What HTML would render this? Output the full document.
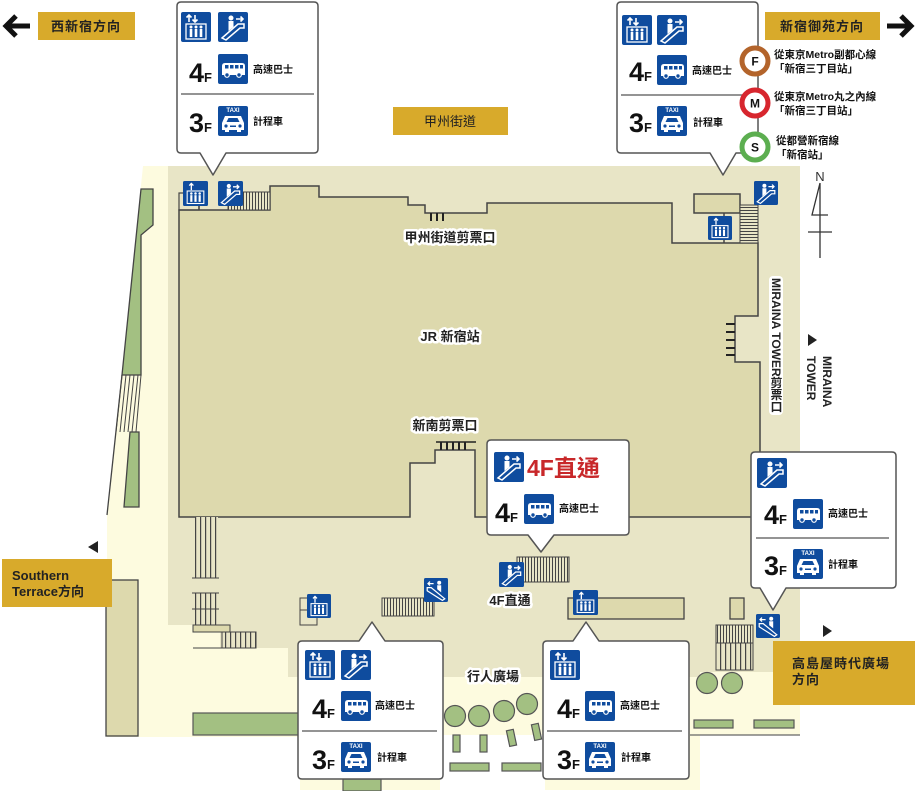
<!DOCTYPE html>
<html><head><meta charset="utf-8">
<style>
html,body{margin:0;padding:0;background:#fff;}
#w{position:relative;width:917px;height:791px;overflow:hidden;font-family:"Liberation Sans","Noto Sans CJK TC",sans-serif;}
svg{position:absolute;left:0;top:0;}
svg text{font-family:"Liberation Sans","Noto Sans CJK TC",sans-serif;font-weight:bold;}
.halo{paint-order:stroke;stroke:#fff;stroke-width:5px;stroke-linejoin:round;}
.v{position:absolute;writing-mode:vertical-rl;font-weight:bold;color:#222;white-space:nowrap;line-height:1;}
</style></head><body><div id="w">
<svg width="917" height="791" viewBox="0 0 917 791">
<defs>
<pattern id="sv" width="3" height="10" patternUnits="userSpaceOnUse"><rect width="3" height="10" fill="#e8e5c6"/><rect width="1" height="10" fill="#444"/></pattern>
<pattern id="sv5" width="5" height="10" patternUnits="userSpaceOnUse"><rect width="5" height="10" fill="#e8e5c6"/><rect width="1.2" height="10" fill="#444"/></pattern>
<pattern id="sh" width="10" height="3" patternUnits="userSpaceOnUse"><rect width="10" height="3" fill="#e8e5c6"/><rect width="10" height="1" fill="#444"/></pattern>
<symbol id="elev2" viewBox="0 0 30 30"><rect width="30" height="30" rx="2" fill="#0f4c9e"/><path d="M8 10V3M5.5 5.5L8 3l2.5 2.5M14 3v7M11.5 7.5L14 10l2.5-2.5" stroke="#fff" stroke-width="1.6" fill="none"/><rect x="5" y="12" width="20" height="15" fill="none" stroke="#fff" stroke-width="1.3"/><g fill="#fff"><circle cx="10" cy="15" r="1.5"/><circle cx="15" cy="15" r="1.5"/><circle cx="20" cy="15" r="1.5"/><rect x="8.7" y="17" width="2.6" height="8"/><rect x="13.7" y="17" width="2.6" height="8"/><rect x="18.7" y="17" width="2.6" height="8"/></g></symbol>
<symbol id="elev1" viewBox="0 0 30 30"><rect width="30" height="30" rx="2" fill="#0f4c9e"/><path d="M10 11V3M7.5 5.5L10 3l2.5 2.5" stroke="#fff" stroke-width="1.6" fill="none"/><rect x="5" y="12" width="20" height="15" fill="none" stroke="#fff" stroke-width="1.3"/><g fill="#fff"><circle cx="10" cy="15" r="1.5"/><circle cx="15" cy="15" r="1.5"/><circle cx="20" cy="15" r="1.5"/><rect x="8.7" y="17" width="2.6" height="8"/><rect x="13.7" y="17" width="2.6" height="8"/><rect x="18.7" y="17" width="2.6" height="8"/></g></symbol>
<symbol id="esc" viewBox="0 0 30 30"><rect width="30" height="30" rx="2" fill="#0f4c9e"/><path d="M4 26L20 12h6v4h-4L8 28z" fill="none" stroke="#fff" stroke-width="1.5"/><circle cx="13" cy="6" r="2.5" fill="#fff"/><path d="M10.5 9h5v6l-5 4z" fill="#fff"/><path d="M18 7h7M22.5 4.5L25 7l-2.5 2.5" stroke="#fff" stroke-width="1.6" fill="none"/></symbol>
<symbol id="escl" viewBox="0 0 30 30"><rect width="30" height="30" rx="2" fill="#0f4c9e"/><path d="M4 16V12h5l17 14-3 2z" fill="none" stroke="#fff" stroke-width="1.5"/><circle cx="19" cy="6" r="2.5" fill="#fff"/><path d="M16.5 9h5v9l-5-4z" fill="#fff"/><path d="M12 7H5M7.5 4.5L5 7l2.5 2.5" stroke="#fff" stroke-width="1.6" fill="none"/></symbol>
<symbol id="bus" viewBox="0 0 30 30"><rect width="30" height="30" rx="2" fill="#0f4c9e"/><path d="M4 21V12q0-3 3-3h17q3 0 3 3v9z" fill="#fff"/><rect x="7" y="11" width="3.5" height="3.5" fill="#0f4c9e"/><rect x="12" y="11" width="3.5" height="3.5" fill="#0f4c9e"/><rect x="17" y="11" width="3.5" height="3.5" fill="#0f4c9e"/><rect x="22" y="11" width="3" height="3.5" fill="#0f4c9e"/><circle cx="9" cy="21" r="2.3" fill="#0f4c9e" stroke="#fff" stroke-width="1.2"/><circle cx="21" cy="21" r="2.3" fill="#0f4c9e" stroke="#fff" stroke-width="1.2"/></symbol>
<symbol id="car" viewBox="0 0 30 30"><rect width="30" height="30" rx="2" fill="#0f4c9e"/><path d="M4 24v-7l3-7h16l3 7v7h-3v2h-4v-2h-8v2H7v-2z" fill="#fff"/><path d="M8.5 16l2-4h9l2 4z" fill="#0f4c9e"/><circle cx="8" cy="20" r="1.6" fill="#0f4c9e"/><circle cx="22" cy="20" r="1.6" fill="#0f4c9e"/><rect x="12" y="19.5" width="6" height="1.5" fill="#0f4c9e"/></symbol>
</defs>

<polygon points="143,166 800,166 800,735 700,735 700,790 545,790 545,735 440,735 440,790 300,790 300,737 107,737 107,515" fill="#fdfbdf"/>
<polygon points="168,166 800,166 800,672 700,672 700,677 288,677 288,648 220,648 220,625 168,625 168,200" fill="#e8e5c6"/>
<polygon points="179,210 270,210 270,186 319,186 319,197 408,197 408,205 425,205 425,213 487,213 487,203 672,203 672,243 758,243 758,316 735,316 735,362 760,362 760,517 475,517 475,450 435,450 435,463 410,463 410,517 179,517" fill="#ddd9ad" stroke="#444" stroke-width="1.5"/>
<rect x="694" y="194" width="46" height="19" fill="#ddd9ad" stroke="#444" stroke-width="1.5"/>
<line x1="724" y1="213" x2="724" y2="243" stroke="#444" stroke-width="1.5"/>
<line x1="199" y1="203" x2="199" y2="210" stroke="#444" stroke-width="1.5"/>
<rect x="179" y="193" width="20" height="17" fill="none" stroke="#444" stroke-width="1.2"/>
<g stroke="#222" stroke-width="2"><line x1="431" y1="213" x2="431" y2="221"/><line x1="437" y1="213" x2="437" y2="221"/><line x1="443" y1="213" x2="443" y2="221"/>
<line x1="441" y1="442" x2="441" y2="450"/><line x1="447" y1="442" x2="447" y2="450"/><line x1="453" y1="442" x2="453" y2="450"/><line x1="459" y1="442" x2="459" y2="450"/><line x1="465" y1="442" x2="465" y2="450"/>
<line x1="726" y1="324" x2="735" y2="324"/><line x1="726" y1="332" x2="735" y2="332"/><line x1="726" y1="340" x2="735" y2="340"/><line x1="726" y1="348" x2="735" y2="348"/><line x1="726" y1="355" x2="735" y2="355"/></g>
<line x1="436" y1="442" x2="476" y2="442" stroke="#222" stroke-width="1.5"/>
<rect x="228" y="192" width="42" height="18" fill="url(#sv)" stroke="#444"/>
<rect x="740" y="205" width="18" height="38" fill="url(#sh)" stroke="#444"/>
<rect x="195" y="517" width="23" height="61" fill="url(#sv5)"/><line x1="192" y1="578" x2="219" y2="578" stroke="#444"/>
<rect x="195" y="593" width="23" height="32" fill="url(#sv5)"/><line x1="192" y1="593" x2="219" y2="593" stroke="#444"/><line x1="192" y1="609" x2="219" y2="609" stroke="#444"/>
<rect x="193" y="625" width="37" height="7" fill="#ddd9ad" stroke="#444"/>
<rect x="222" y="632" width="34" height="16" fill="url(#sv5)" stroke="#444"/><line x1="193" y1="648" x2="222" y2="648" stroke="#444"/>
<rect x="517" y="557" width="52" height="25" fill="url(#sv)" stroke="#444"/>
<rect x="382" y="598" width="52" height="18" fill="url(#sv)" stroke="#444"/>
<rect x="716" y="625" width="37" height="18" fill="url(#sv)" stroke="#444"/>
<rect x="716" y="643" width="37" height="27" fill="url(#sv5)" stroke="#444"/>
<rect x="568" y="598" width="116" height="21" fill="#ddd9ad" stroke="#444" stroke-width="1.3"/>
<rect x="730" y="598" width="14" height="21" fill="#ddd9ad" stroke="#444" stroke-width="1.3"/>
<polyline points="307,598 300,598 300,625 317,625 317,618" fill="none" stroke="#444"/><line x1="300" y1="610" x2="307" y2="610" stroke="#444"/>
<polygon points="141,189 153,189 153,225 141,235 141,375 122,375" fill="#a3c082" stroke="#444" stroke-width="1.3"/>
<g stroke="#444" stroke-width="1"><line x1="122" y1="375" x2="116" y2="432"/><line x1="126" y1="375" x2="120" y2="432"/><line x1="130" y1="375" x2="124" y2="432"/><line x1="134" y1="375" x2="128" y2="432"/><line x1="138" y1="375" x2="132" y2="432"/><line x1="141" y1="375" x2="136" y2="432"/></g>
<polygon points="130,432 139,432 139,507 124,507" fill="#a3c082" stroke="#444" stroke-width="1.3"/>
<line x1="122" y1="375" x2="107" y2="515" stroke="#444" stroke-width="1.3"/>
<rect x="106" y="580" width="32" height="156" fill="#ddd9ad" stroke="#444" stroke-width="1.3"/>
<g fill="#a3c082" stroke="#555" stroke-width="1.2">
<rect x="193" y="713" width="106" height="22"/>
<rect x="343" y="779" width="38" height="12"/>
<rect x="450" y="763" width="39" height="8"/><rect x="502" y="763" width="39" height="8"/>
<rect x="453" y="735" width="7" height="17"/><rect x="480" y="735" width="7" height="17"/>
<rect x="508" y="730" width="7" height="16" transform="rotate(-12 511 738)"/><rect x="533" y="724" width="7" height="16" transform="rotate(-12 536 732)"/>
<rect x="694" y="720" width="39" height="8"/><rect x="754" y="720" width="40" height="8"/>
<circle cx="455" cy="716" r="10.5"/><circle cx="479" cy="716" r="10.5"/><circle cx="504" cy="711" r="10.5"/><circle cx="527" cy="704" r="10.5"/>
<circle cx="707" cy="683" r="10.5"/><circle cx="732" cy="683" r="10.5"/>
</g>
<line x1="690" y1="735" x2="800" y2="735" stroke="#666" stroke-width="1.3"/>

<use href="#elev1" x="183" y="181" width="25" height="25"/>
<use href="#esc" x="218" y="181" width="25" height="25"/>
<use href="#esc" x="754" y="181" width="24" height="24"/>
<use href="#elev1" x="708" y="216" width="24" height="24"/>
<use href="#esc" x="499" y="562" width="25" height="25"/>
<use href="#elev1" x="573" y="590" width="25" height="25"/>
<use href="#elev1" x="307" y="594" width="24" height="24"/>
<use href="#escl" x="424" y="578" width="24" height="24"/>
<use href="#escl" x="756" y="614" width="24" height="24"/>

<text x="450" y="242" font-size="13" text-anchor="middle" class="halo" fill="#222">甲州街道剪票口</text>
<text x="450" y="341" font-size="13" text-anchor="middle" class="halo" fill="#222">JR 新宿站</text>
<text x="445" y="430" font-size="13" text-anchor="middle" class="halo" fill="#222">新南剪票口</text>
<text x="510" y="605" font-size="13" text-anchor="middle" class="halo" fill="#222">4F直通</text>
<text x="493" y="681" font-size="13" text-anchor="middle" class="halo" fill="#222">行人廣場</text>

<text x="820" y="181" font-size="13" text-anchor="middle" fill="#333" style="font-weight:normal">N</text>
<path d="M820 183L812 215H828M820 183V258M808 232H832" fill="none" stroke="#333" stroke-width="1.3"/>
<polygon points="808,334 808,346 817,340" fill="#222"/>
<polygon points="98,541 98,553 88,547" fill="#222"/>
<polygon points="823,625 823,637 832,631" fill="#222"/>
<path d="M30 26H6M16 16L6 26l10 10" stroke="#111" stroke-width="5" fill="none"/>
<path d="M887 26H911M901 16l10 10-10 10" stroke="#111" stroke-width="5" fill="none"/>
<g fill="#d8aa2b"><rect x="38" y="12" width="97" height="28"/><rect x="393" y="107" width="115" height="28"/><rect x="765" y="12" width="115" height="28"/><rect x="2" y="559" width="110" height="48"/><rect x="773" y="641" width="142" height="64"/></g>
<g fill="#222" font-size="13"><text x="86" y="31" text-anchor="middle" letter-spacing="1">西新宿方向</text>
<text x="450" y="126" text-anchor="middle" style="font-weight:normal">甲州街道</text>
<text x="822" y="31" text-anchor="middle" letter-spacing="1">新宿御苑方向</text>
<text x="12" y="580" font-size="13">Southern</text><text x="12" y="596" font-size="13">Terrace方向</text>
<text x="792" y="668" font-size="13" letter-spacing="1">高島屋時代廣場</text><text x="792" y="684" font-size="13" letter-spacing="1">方向</text></g>

<g fill="#fff" stroke="#555" stroke-width="1.5" stroke-linejoin="round">
<path d="M181 2H314Q318 2 318 6V149Q318 153 314 153H226L213 175L200 153H181Q177 153 177 149V6Q177 2 181 2Z"/>
<path d="M621 2H754Q758 2 758 6V149Q758 153 754 153H736L723 175L710 153H621Q617 153 617 149V6Q617 2 621 2Z"/>
<path d="M491 440H625Q629 440 629 444V531Q629 535 625 535H554L541 552L528 535H491Q487 535 487 531V444Q487 440 491 440Z"/>
<path d="M755 452H892Q896 452 896 456V584Q896 588 892 588H786L773 610L760 588H755Q751 588 751 584V456Q751 452 755 452Z"/>
<path d="M302 641H359L372 622L385 641H439Q443 641 443 645V775Q443 779 439 779H302Q298 779 298 775V645Q298 641 302 641Z"/>
<path d="M547 641H573L586 622L599 641H685Q689 641 689 645V775Q689 779 685 779H547Q543 779 543 775V645Q543 641 547 641Z"/>
</g>
<g stroke="#555" stroke-width="1.3"><line x1="181" y1="94" x2="314" y2="94"/><line x1="621" y1="95" x2="754" y2="95"/><line x1="756" y1="538" x2="889" y2="538"/><line x1="302" y1="731" x2="437" y2="731"/><line x1="547" y1="731" x2="682" y2="731"/></g>

<use href="#elev2" x="181" y="12" width="30" height="30"/><use href="#esc" x="218" y="12" width="30" height="30"/>
<use href="#bus" x="218" y="54" width="30" height="30"/><use href="#car" x="218" y="106" width="30" height="30"/>
<use href="#elev2" x="622" y="15" width="30" height="30"/><use href="#esc" x="657" y="15" width="30" height="30"/>
<use href="#bus" x="657" y="55" width="30" height="30"/><use href="#car" x="657" y="106" width="30" height="30"/>
<use href="#esc" x="494" y="452" width="30" height="30"/><use href="#bus" x="524" y="494" width="30" height="30"/>
<use href="#esc" x="757" y="458" width="30" height="30"/><use href="#bus" x="793" y="499" width="30" height="30"/><use href="#car" x="793" y="549" width="30" height="30"/>
<use href="#elev2" x="305" y="650" width="30" height="30"/><use href="#esc" x="341" y="650" width="30" height="30"/>
<use href="#bus" x="341" y="691" width="30" height="30"/><use href="#car" x="341" y="742" width="30" height="30"/>
<use href="#elev2" x="550" y="650" width="30" height="30"/>
<use href="#bus" x="585" y="691" width="30" height="30"/><use href="#car" x="585" y="742" width="30" height="30"/>

<g fill="#fff" font-size="6" text-anchor="middle">
<text x="233" y="112">TAXI</text><text x="672" y="112">TAXI</text><text x="808" y="555">TAXI</text><text x="356" y="748">TAXI</text><text x="600" y="748">TAXI</text></g>

<g fill="#111" font-size="27">
<text x="189" y="82">4<tspan font-size="13">F</tspan></text>
<text x="189" y="132">3<tspan font-size="13">F</tspan></text>
<text x="629" y="81">4<tspan font-size="13">F</tspan></text>
<text x="629" y="132">3<tspan font-size="13">F</tspan></text>
<text x="495" y="522">4<tspan font-size="13">F</tspan></text>
<text x="764" y="524">4<tspan font-size="13">F</tspan></text>
<text x="764" y="575">3<tspan font-size="13">F</tspan></text>
<text x="312" y="718">4<tspan font-size="13">F</tspan></text>
<text x="312" y="769">3<tspan font-size="13">F</tspan></text>
<text x="557" y="718">4<tspan font-size="13">F</tspan></text>
<text x="557" y="769">3<tspan font-size="13">F</tspan></text>
</g>
<g fill="#111" font-size="10">
<text x="253" y="73">高速巴士</text><text x="253" y="125">計程車</text>
<text x="692" y="74">高速巴士</text><text x="693" y="126">計程車</text>
<text x="559" y="512">高速巴士</text>
<text x="828" y="517">高速巴士</text><text x="828" y="568">計程車</text>
<text x="375" y="709">高速巴士</text><text x="377" y="761">計程車</text>
<text x="620" y="709">高速巴士</text><text x="621" y="761">計程車</text>
</g>
<text x="527" y="476" font-size="23" fill="#c8282a">4F直通</text>

<circle cx="755" cy="61" r="13" fill="#fff" stroke="#b3642b" stroke-width="5"/>
<circle cx="755" cy="103" r="13" fill="#fff" stroke="#d7262e" stroke-width="5"/>
<circle cx="755" cy="147" r="13" fill="#fff" stroke="#5cae50" stroke-width="5"/>
<g font-size="12" text-anchor="middle" fill="#111"><text x="755" y="65.5">F</text><text x="755" y="107.5">M</text><text x="755" y="151.5">S</text></g>
<g font-size="10.5" fill="#111">
<text x="774" y="58">從東京Metro副都心線</text><text x="774" y="72">「新宿三丁目站」</text>
<text x="774" y="100">從東京Metro丸之內線</text><text x="774" y="114">「新宿三丁目站」</text>
<text x="776" y="144">從都營新宿線</text><text x="776" y="158">「新宿站」</text>
</g>
</svg>
<div class="v" style="left:769px;top:276px;font-size:12px;background:#fff;border-radius:4px;padding:2px 1px;">MIRAINA TOWER剪票口</div>
<div class="v" style="left:803px;top:356px;font-size:12px;line-height:16px;">MIRAINA<br>TOWER</div>
</div></body></html>
